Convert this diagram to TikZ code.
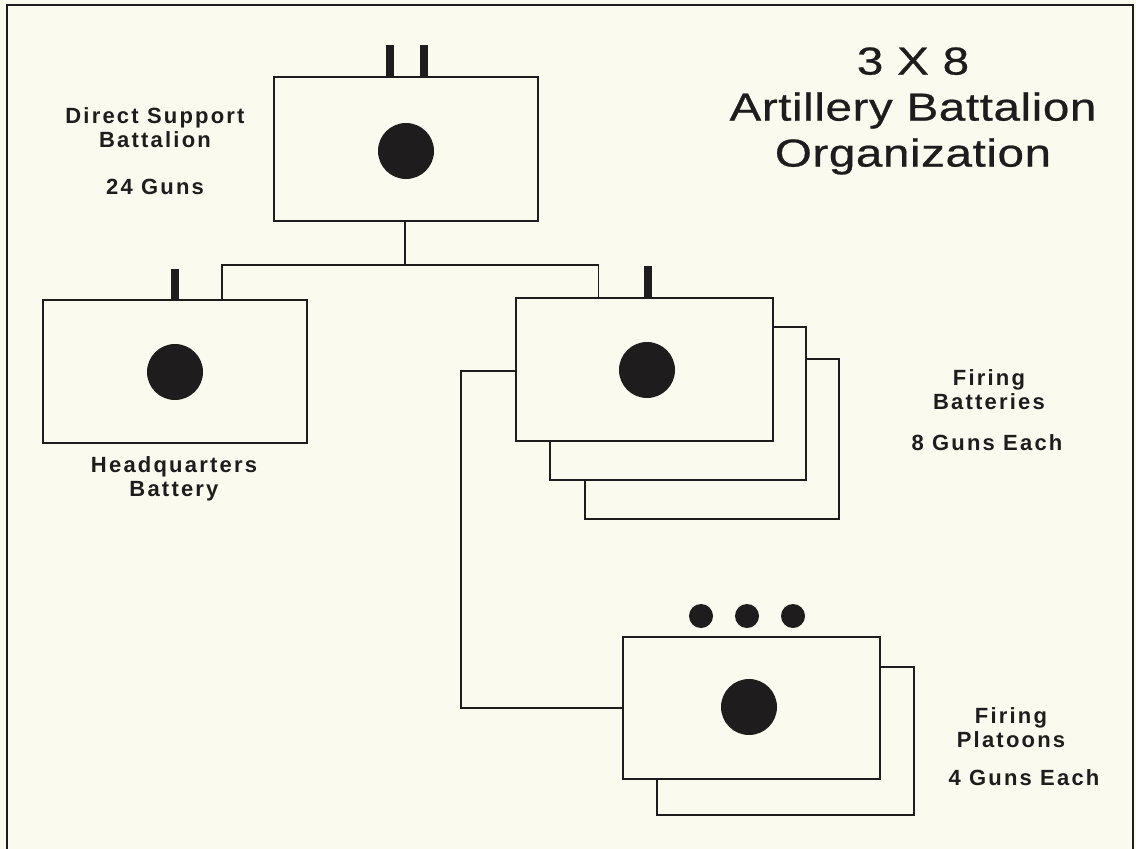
\documentclass[tikz,border=0pt]{standalone}
\usepackage{fontspec}
\setmainfont{Liberation Sans}
\newfontfamily\lblfont[LetterSpace=10]{Liberation Sans}
\newfontfamily\ttlfont[FakeStretch=1.22,LetterSpace=1.5,FakeBold=0.6]{Liberation Sans}
\definecolor{bg}{RGB}{251,250,238}
\definecolor{ink}{RGB}{30,28,28}
\begin{document}
\begin{tikzpicture}[x=1pt,y=-1pt,
  unit/.style={draw=ink,line width=1.8pt,fill=bg,rectangle,inner sep=0pt},
  wire/.style={draw=ink,line width=1.8pt},
  mast/.style={draw=ink,line width=7.5pt},
  gun/.style={fill=ink,circle,inner sep=0pt,minimum size=56pt},
  dotg/.style={fill=ink,circle,inner sep=0pt,minimum size=24pt},
  lbl/.style={text=ink,align=center,font=\lblfont\bfseries\fontsize{22}{24}\selectfont,inner sep=0pt},
  ttl/.style={text=ink,align=center,font=\ttlfont\fontsize{39}{46}\selectfont,inner sep=0pt}]
\fill[bg] (0,0) rectangle (1136,849);
\useasboundingbox (0,0) rectangle (1136,849);
\draw[ink,line width=2.5pt] (7,849) -- (7,5) -- (1133,5) -- (1133,849);

% title
\node[ttl] (title) at (913,111) {3 X 8\\Artillery Battalion\\Organization};

% battalion
\node[unit,minimum width=264pt,minimum height=144pt] (bn) at (406,149) {};
\node[gun] (bngun) at (406,151) {};
\draw[mast] (390,45) -- (390,77);
\draw[mast] (424,45) -- (424,77);
\node[lbl] (bnlbl) at (155,128) {Direct Support\\Battalion};
\node[lbl] (bnguns) at (155,187) {24 Guns};

% HQ battery
\node[unit,minimum width=264pt,minimum height=143pt] (hq) at (175,371.5) {};
\node[gun] (hqgun) at (175,372) {};
\draw[mast] (175,269) -- (175,300);
\node[lbl] (hqlbl) at (174,479) {Headquarters\\Battery};

% firing batteries
\node[unit,minimum width=254pt,minimum height=160pt] (fb3) at (712,439) {};
\node[unit,minimum width=256pt,minimum height=153pt] (fb2) at (678,403.5) {};
\node[unit,minimum width=257pt,minimum height=143pt] (fb1) at (644.5,369.5) {};
\node[gun] (fbgun) at (647,370) {};
\draw[mast] (648,266) -- (648,298);
\node[lbl] (fblbl) at (989,389.5) {Firing\\Batteries};
\node[lbl] (fbguns) at (987,443) {8 Guns Each};

% firing platoons
\node[unit,minimum width=257pt,minimum height=148pt] (pl2) at (785.5,741) {};
\node[unit,minimum width=257pt,minimum height=142pt] (pl1) at (751.5,708) {};
\node[gun] (plgun) at (749,707) {};
\node[dotg] (d1) at (701,616) {};
\node[dotg] (d2) at (747,616) {};
\node[dotg] (d3) at (793,616) {};
\node[lbl] (pllbl) at (1011,728) {Firing\\Platoons};
\node[lbl] (plguns) at (1024,778) {4 Guns Each};

% connectors
\coordinate (bus) at (405,265);
\draw[wire] (bn.south -| bus) -- (bus);
\draw[wire] (bus) -| ([xshift=47pt]hq.north);
\draw[wire] (bus) -| ([xshift=-46pt]fb1.north);
\draw[wire] ([yshift=-1.5pt]fb1.west) -- ++(-54,0) |- (pl1.west);
\end{tikzpicture}
\end{document}
